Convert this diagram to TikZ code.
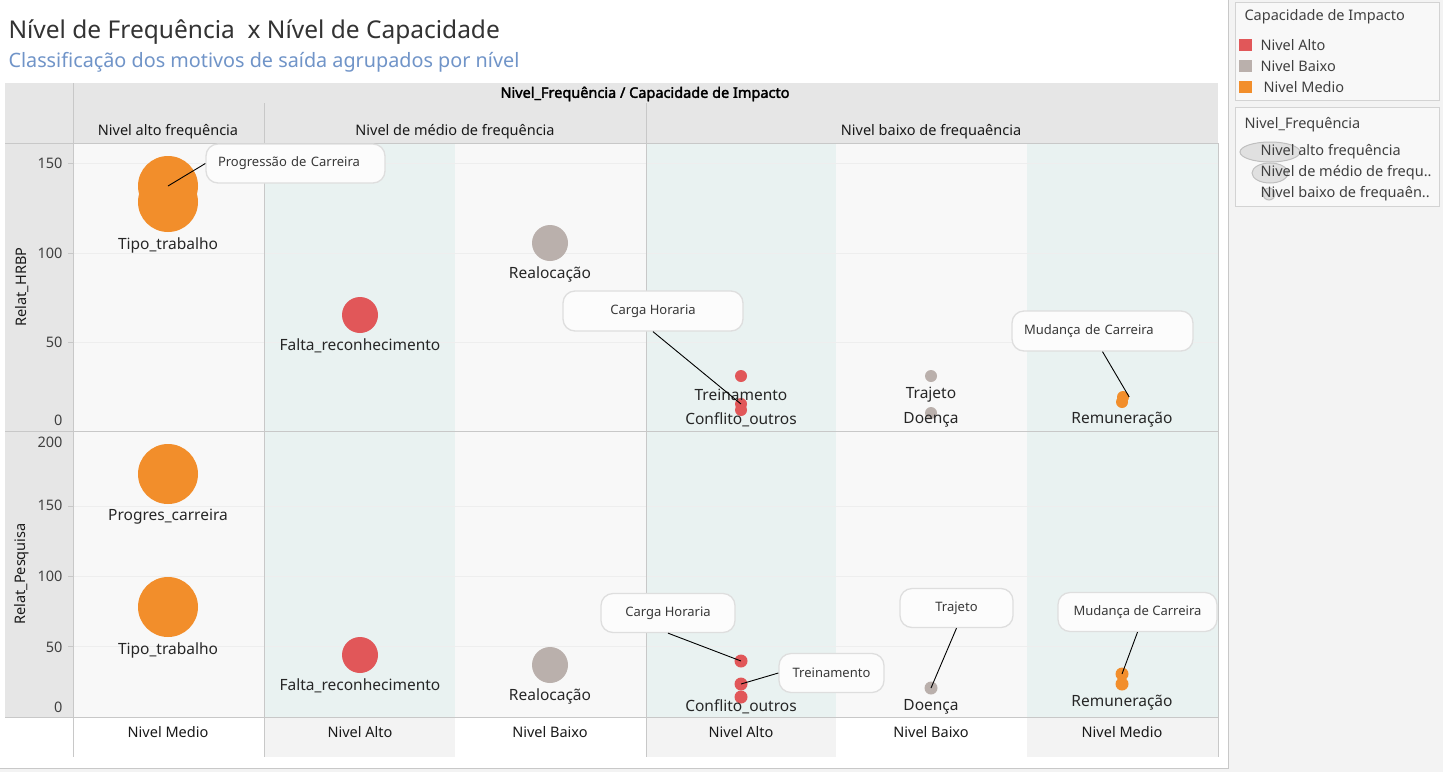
\documentclass[tikz,border=0pt]{standalone}
\usepackage{fontspec}
\setmainfont{Noto Sans}
\newfontfamily\headfont[FakeBold=2.2]{Noto Sans}
\definecolor{alto}{HTML}{E15759}
\definecolor{baixo}{HTML}{BAB0AC}
\definecolor{medio}{HTML}{F28E2B}
\definecolor{band}{HTML}{E9F2F1}
\definecolor{pane}{HTML}{F8F8F8}
\definecolor{hdr}{HTML}{E6E6E6}
\definecolor{rule}{HTML}{C8C8C8}
\definecolor{side}{HTML}{F3F3F3}
\definecolor{gridc}{HTML}{EEEEEE}
\definecolor{sub}{HTML}{7094C8}
\tikzset{
  lbl/.style={font=\fontsize{15.5}{18}\selectfont, text=black!85},
  ticklbl/.style={anchor=east, font=\fontsize{14.5}{17}\selectfont, text=black!75},
  colhead/.style={font=\fontsize{14.5}{17}\selectfont, text=black!90},
  legtext/.style={anchor=west, font=\fontsize{14.5}{17}\selectfont, text=black!75},
  balloon/.style={draw=black!13, line width=1.3pt, fill=white!60!pane, rounded corners=12pt,
    inner sep=0pt, font=\fontsize{13}{15}\selectfont, text=black!78},
  swatch/.style={draw=none}
}
\begin{document}
\begin{tikzpicture}[x=1pt, y=-1pt]
\useasboundingbox (0,0) rectangle (1443,772);
\fill[white] (0,0) rectangle (1228,768);
\fill[side] (1228,0) rectangle (1443,772);
\fill[side] (0,768) rectangle (1228,772);
\draw[rule] (1228,0) -- (1228,768) -- (0,768);

\node[anchor=base west, font=\fontsize{24.5}{28}\selectfont, text=black!80] (title) at (5,38) {Nível de Frequência\ \ x Nível de Capacidade};
\node[anchor=base west, font=\fontsize{19.8}{22}\selectfont, text=sub] (subtitle) at (5,67) {Classificação dos motivos de saída agrupados por nível};

% header and panes
\fill[hdr] (5,83) rectangle (1218,143);
\fill[hdr] (5,143) rectangle (73,717);
\fill[pane] (73,143) rectangle (1218,717);
\fill[band] (264,143) rectangle (455,717);
\fill[band] (646,143) rectangle (836,717);
\fill[band] (1027,143) rectangle (1218,717);
\fill[side] (264,717) rectangle (455,757);
\fill[side] (646,717) rectangle (836,757);
\fill[side] (1027,717) rectangle (1218,757);
\begin{scope}[draw=gridc, line width=0.8pt]
\draw (73,163) -- (1218,163);
\draw (73,253) -- (1218,253);
\draw (73,342) -- (1218,342);
\draw (73,506) -- (1218,506);
\draw (73,576) -- (1218,576);
\draw (73,646) -- (1218,646);
\end{scope}
\begin{scope}[draw=rule, line width=0.9pt]
\draw (5,143) -- (1218,143);
\draw (5,431) -- (1218,431);
\draw (5,717) -- (1218,717);
\draw (73,83) -- (73,757);
\draw (264,103) -- (264,757);
\draw (646,103) -- (646,757);
\draw (1218,143) -- (1218,757);
\draw (68,163) -- (73,163);
\draw (68,253) -- (73,253);
\draw (68,342) -- (73,342);
\draw (68,506) -- (73,506);
\draw (68,576) -- (73,576);
\draw (68,646) -- (73,646);
\end{scope}

\node[font=\headfont\fontsize{14.5}{17}\selectfont] (head) at (645,94) {Nivel\_Frequência\ /\ Capacidade de Impacto};
\node[colhead] (hAlto) at (168,132) {Nivel alto frequência};
\node[colhead] (hMedio) at (455,132) {Nivel de médio de frequência};
\node[colhead] (hBaixo) at (931,132) {Nivel baixo de frequaência};
\node[colhead, rotate=90] (axHRBP) at (22,287) {Relat\_HRBP};
\node[colhead, rotate=90] (axPesq) at (22,574) {Relat\_Pesquisa};

\node[ticklbl] (t150a) at (66,163) {150};
\node[ticklbl] (t100a) at (66,253) {100};
\node[ticklbl] (t50a) at (66,342) {50};
\node[ticklbl] (t0a) at (66,420) {0};
\node[ticklbl] (t200b) at (66,442) {200};
\node[ticklbl] (t150b) at (66,505) {150};
\node[ticklbl] (t100b) at (66,576) {100};
\node[ticklbl] (t50b) at (66,647) {50};
\node[ticklbl] (t0b) at (66,707) {0};

\node[colhead] (bMedio) at (168,732) {Nivel Medio};
\node[colhead] (bAlto) at (360,732) {Nivel Alto};
\node[colhead] (bBaixo) at (550,732) {Nivel Baixo};
\node[colhead] (bAlto2) at (741,732) {Nivel Alto};
\node[colhead] (bBaixo2) at (931,732) {Nivel Baixo};
\node[colhead] (bMedio2) at (1122,732) {Nivel Medio};

% marks
\begin{scope}[every node/.style={circle, inner sep=0pt}]
\node[fill=medio, minimum size=60pt] (hProg) at (168,186) {};
\node[fill=medio, minimum size=60pt] (hTipo) at (168,202) {};
\node[fill=alto, minimum size=36pt] (hFalta) at (360,315) {};
\node[fill=baixo, minimum size=36pt] (hRealoc) at (550,243) {};
\node[fill=alto, minimum size=12pt] (hTrein) at (741,376) {};
\node[fill=alto, minimum size=12pt] (hCarga) at (741,404) {};
\node[fill=alto, minimum size=12pt] (hConf) at (741,410) {};
\node[fill=baixo, minimum size=12pt] (hTraj) at (931,376) {};
\node[fill=baixo, minimum size=12pt] (hDoen) at (931,413) {};
\node[fill=medio, minimum size=12pt] (hMud) at (1123,397) {};
\node[fill=medio, minimum size=12pt] (hRem) at (1122,402) {};
\node[fill=medio, minimum size=60pt] (pProg) at (168,474) {};
\node[fill=medio, minimum size=60pt] (pTipo) at (168,607) {};
\node[fill=alto, minimum size=36pt] (pFalta) at (360,655) {};
\node[fill=baixo, minimum size=36pt] (pRealoc) at (550,665) {};
\node[fill=alto, minimum size=13pt] (pCarga) at (741,661) {};
\node[fill=alto, minimum size=13pt] (pTrein) at (741,684) {};
\node[fill=alto, minimum size=13pt] (pConf) at (741,697) {};
\node[fill=baixo, minimum size=13pt] (pDoen) at (931,688) {};
\node[fill=medio, minimum size=13pt] (pMud) at (1122,674) {};
\node[fill=medio, minimum size=13pt] (pRem) at (1122,684) {};
\end{scope}

\node[lbl] (lhTipo) at (168,245) {Tipo\_trabalho};
\node[lbl] (lhFalta) at (360,346) {Falta\_reconhecimento};
\node[lbl] (lhRealoc) at (550,274) {Realocação};
\node[lbl] (lhTrein) at (741,395) {Treinamento};
\node[lbl] (lhConf) at (741,420) {Conflito\_outros};
\node[lbl] (lhTraj) at (931,395) {Trajeto};
\node[lbl] (lhDoen) at (931,420) {Doença};
\node[lbl] (lhRem) at (1122,420) {Remuneração};
\node[lbl] (lpProg) at (168,517) {Progres\_carreira};
\node[lbl] (lpTipo) at (168,650) {Tipo\_trabalho};
\node[lbl] (lpFalta) at (360,686) {Falta\_reconhecimento};
\node[lbl] (lpRealoc) at (550,696) {Realocação};
\node[lbl] (lpConf) at (741,707) {Conflito\_outros};
\node[lbl] (lpDoen) at (931,707) {Doença};
\node[lbl] (lpRem) at (1122,703) {Remuneração};

% callouts
\node[balloon, minimum width=179pt, minimum height=39pt, text width=155pt, align=left] (cProg) at (295.5,163.5) {Progressão de Carreira};
\node[balloon, minimum width=180pt, minimum height=40pt] (cCargaH) at (653,311) {Carga Horaria};
\node[balloon, minimum width=181pt, minimum height=40pt, text width=157pt, align=left] (cMudH) at (1102.5,331) {Mudança de Carreira};
\node[balloon, minimum width=134pt, minimum height=39pt] (cCargaP) at (668,613) {Carga Horaria};
\node[balloon, minimum width=105pt, minimum height=39pt] (cTrein) at (831.5,673) {Treinamento};
\node[balloon, minimum width=113pt, minimum height=39pt] (cTraj) at (956.5,608) {Trajeto};
\node[balloon, minimum width=159pt, minimum height=39pt] (cMudP) at (1137.5,612) {Mudança de Carreira};
\begin{scope}[every edge/.style={draw, line width=0.9pt}]
\path (cProg.west) edge (hProg.center);
\path (cCargaH.south) edge (hCarga.center);
\path (cMudH.south) edge (hMud.east);
\path (cCargaP.south) edge (pCarga.center);
\path (cTrein.west) edge (pTrein.center);
\path (cTraj.south) edge (pDoen.center);
\path (cMudP.south) edge (pMud.center);
\end{scope}

% legends
\draw[rule!80, fill=pane] (1235,2) rectangle (1439,100);
\draw[rule!80, fill=pane] (1235,107) rectangle (1439,206);
\node[legtext] (legCap) at (1241,17) {Capacidade de Impacto};
\fill[alto] (1239,39) rectangle (1252,51);
\fill[baixo] (1239,60) rectangle (1252,72);
\fill[medio] (1239,81) rectangle (1252,93);
\node[legtext] (legAlto) at (1257,45) {Nivel Alto};
\node[legtext] (legBaixo) at (1257,66) {Nivel Baixo};
\node[legtext] (legMedio) at (1260,87) {Nivel Medio};
\node[legtext] (legFreq) at (1241,125) {Nivel\_Frequência};
\draw[black!25, fill=black!12, line width=1pt] (1270,152) ellipse [x radius=30, y radius=10];
\draw[black!25, fill=black!12, line width=1pt] (1270,173) ellipse [x radius=18, y radius=10];
\draw[black!25, fill=black!12, line width=1pt] (1269,194) circle [radius=6];
\node[legtext] (legF1) at (1257,152) {Nivel alto frequência};
\node[legtext] (legF2) at (1257,173) {Nivel de médio de frequ..};
\node[legtext] (legF3) at (1257,194) {Nivel baixo de frequaên..};
\end{tikzpicture}
\end{document}
